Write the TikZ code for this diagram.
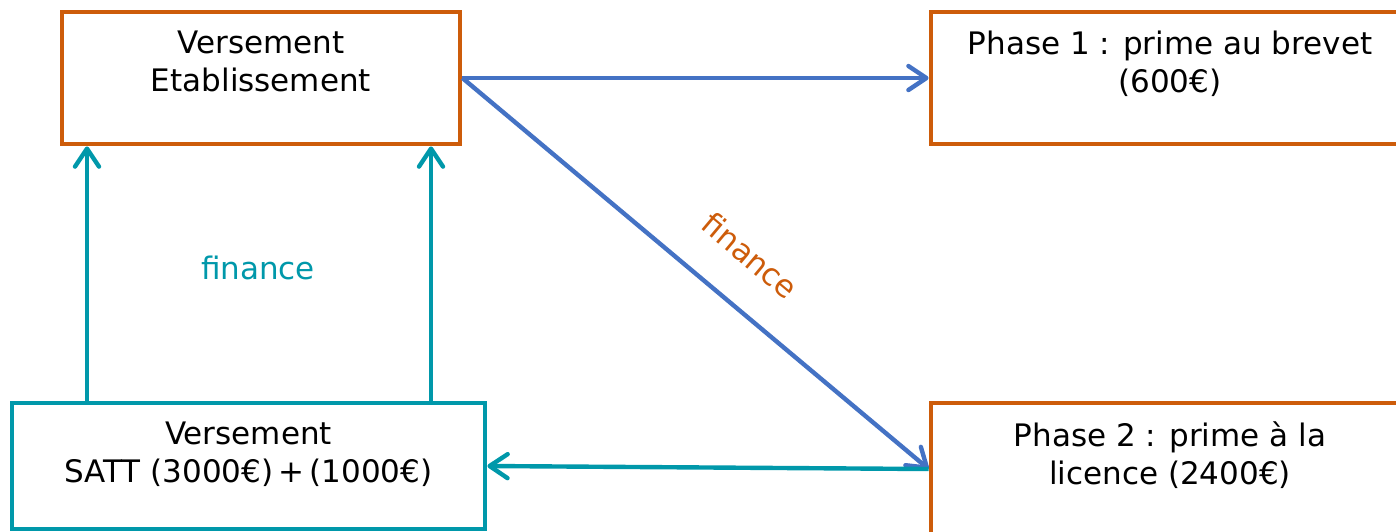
\documentclass[tikz,border=0pt]{standalone}
\usepackage{fontspec}
\setmainfont{DejaVu Sans}
\usetikzlibrary{arrows.meta}
\definecolor{etaborange}{RGB}{205,92,10}
\definecolor{satteal}{RGB}{0,152,170}
\definecolor{flowblue}{RGB}{68,114,196}
\begin{document}
\begin{tikzpicture}[x=0.5pt,y=-0.5pt,
  font=\fontsize{15.5}{19}\selectfont,
  orangebox/.style={draw=etaborange,line width=2.4pt,minimum height=66pt,inner sep=0pt},
  tealbox/.style={draw=satteal,line width=2.4pt,inner sep=0pt},
  boxtext/.style={anchor=north,align=center,inner sep=0pt},
  barb/.style={-{Straight Barb[length=9pt,width=12pt,line cap=round,line join=round]}},
  bluearrow/.style={draw=flowblue,line width=2.2pt,barb},
  tealarrow/.style={draw=satteal,line width=2.2pt,barb}]
\useasboundingbox (0,0) rectangle (1396,531);
% boxes
\node[orangebox,minimum width=199pt] (etab) at (261,78) {};
\node[orangebox,minimum width=239pt] (phase1) at (1170,78) {};
\node[tealbox,minimum width=236.5pt,minimum height=63pt] (satt) at (248.5,466) {};
\node[orangebox,minimum width=239pt] (phase2) at (1170,469) {};
\node[boxtext] (etabtxt) at ([yshift=-10.5pt]etab.north) {Versement\\Etablissement};
\node[boxtext] (phase1txt) at ([yshift=-10.5pt]phase1.north) {Phase 1 : prime au brevet\\(600€)};
\node[boxtext] (satttxt) at ([yshift=-10.5pt]satt.north) {Versement\\SATT (3000€)\,+\,(1000€)};
\node[boxtext] (phase2txt) at ([yshift=-10.5pt]phase2.north) {Phase 2 : prime à la\\licence (2400€)};
% arrows
\draw[bluearrow] (etab.east) -- (phase1.west);
\draw[bluearrow] (etab.east) -- (phase2.west)
  node[pos=.55,sloped,above=14pt,text=etaborange] (financediag) {finance};
\draw[tealarrow] (phase2.west) -- (satt.east);
\coordinate (upleft) at (87,0);
\coordinate (upright) at (431,0);
\draw[tealarrow] (satt.north -| upleft) -- (etab.south -| upleft);
\draw[tealarrow] (satt.north -| upright) -- (etab.south -| upright);
\node[text=satteal] (financeup) at (258,268) {finance};
\end{tikzpicture}
\end{document}
